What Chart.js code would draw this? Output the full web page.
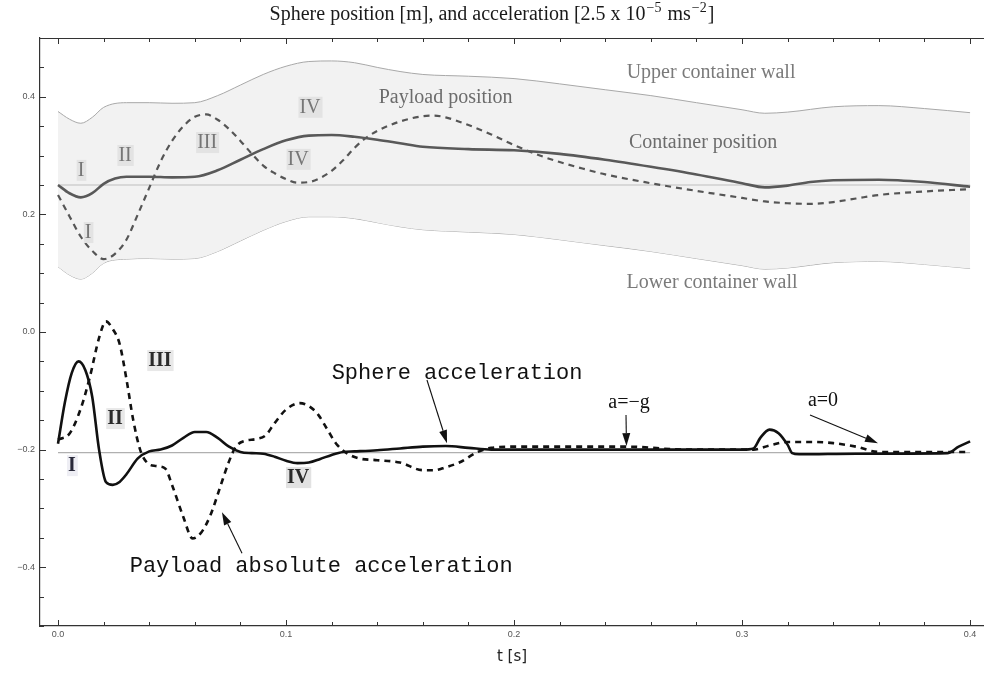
<!DOCTYPE html>
<html>
<head>
<meta charset="utf-8">
<script src="https://cdn.jsdelivr.net/npm/chart.js@4.4.1/dist/chart.umd.min.js"></script>
<style>
  html, body { margin: 0; padding: 0; background: #fff; }
</style>
</head>
<body>
<canvas id="sphereChart" width="984" height="678"></canvas>
<script>
// container walls (m)
const wallT = [0, 0.005, 0.01, 0.015, 0.02, 0.03, 0.04, 0.05, 0.06, 0.07, 0.08, 0.09, 0.1, 0.11, 0.12, 0.13, 0.14, 0.15, 0.16, 0.18, 0.2, 0.22, 0.24, 0.26, 0.28, 0.3, 0.31, 0.32, 0.34, 0.36, 0.38, 0.4];
const upperWall = [0.375, 0.362, 0.355, 0.365, 0.382, 0.390, 0.390, 0.389, 0.390, 0.402, 0.420, 0.438, 0.452, 0.460, 0.461, 0.458, 0.450, 0.443, 0.438, 0.435, 0.431, 0.422, 0.412, 0.402, 0.390, 0.378, 0.372, 0.374, 0.383, 0.385, 0.380, 0.373];
const lowerWall = [0.111, 0.097, 0.090, 0.100, 0.117, 0.124, 0.125, 0.124, 0.125, 0.137, 0.155, 0.173, 0.188, 0.196, 0.196, 0.193, 0.186, 0.179, 0.174, 0.170, 0.166, 0.157, 0.147, 0.137, 0.125, 0.113, 0.107, 0.109, 0.118, 0.120, 0.115, 0.108];

// container centre
const containerT = [0, 0.005, 0.01, 0.015, 0.02, 0.025, 0.03, 0.04, 0.05, 0.06, 0.07, 0.08, 0.09, 0.1, 0.11, 0.12, 0.13, 0.14, 0.15, 0.16, 0.18, 0.2, 0.22, 0.24, 0.26, 0.28, 0.3, 0.31, 0.32, 0.33, 0.34, 0.36, 0.38, 0.4];
const containerPos = [0.25, 0.236, 0.229, 0.236, 0.252, 0.261, 0.264, 0.264, 0.263, 0.264, 0.275, 0.293, 0.311, 0.326, 0.334, 0.335, 0.332, 0.327, 0.321, 0.315, 0.311, 0.309, 0.303, 0.293, 0.281, 0.268, 0.253, 0.246, 0.249, 0.255, 0.258, 0.259, 0.255, 0.247];

// payload (sphere) position
const payloadT = [0, 0.005, 0.01, 0.015, 0.02, 0.025, 0.03, 0.035, 0.04, 0.045, 0.05, 0.055, 0.06, 0.065, 0.07, 0.075, 0.08, 0.085, 0.09, 0.095, 0.1, 0.105, 0.11, 0.115, 0.12, 0.125, 0.13, 0.135, 0.14, 0.15, 0.16, 0.165, 0.17, 0.18, 0.19, 0.2, 0.21, 0.22, 0.23, 0.24, 0.26, 0.28, 0.3, 0.31, 0.32, 0.33, 0.34, 0.35, 0.36, 0.38, 0.4];
const payloadPos = [0.233, 0.197, 0.162, 0.138, 0.124, 0.133, 0.157, 0.200, 0.245, 0.290, 0.325, 0.350, 0.366, 0.370, 0.361, 0.345, 0.325, 0.303, 0.283, 0.270, 0.260, 0.254, 0.255, 0.262, 0.274, 0.292, 0.313, 0.330, 0.342, 0.358, 0.367, 0.368, 0.365, 0.352, 0.336, 0.318, 0.302, 0.289, 0.278, 0.268, 0.253, 0.240, 0.228, 0.222, 0.219, 0.218, 0.221, 0.227, 0.233, 0.239, 0.243];

// accelerations, shifted down so that a=0 sits on the -g line
const sphereAccT = [0, 0.003, 0.006, 0.009, 0.012, 0.015, 0.018, 0.021, 0.024, 0.027, 0.03, 0.035, 0.04, 0.045, 0.05, 0.055, 0.06, 0.065, 0.07, 0.075, 0.08, 0.085, 0.09, 0.095, 0.1, 0.105, 0.11, 0.115, 0.12, 0.125, 0.13, 0.14, 0.15, 0.16, 0.17, 0.18, 0.19, 0.2, 0.25, 0.3, 0.305, 0.308, 0.312, 0.316, 0.32, 0.322, 0.325, 0.35, 0.39, 0.395, 0.4];
const sphereAcc = [-0.19, -0.12, -0.07, -0.05, -0.065, -0.11, -0.20, -0.255, -0.26, -0.255, -0.242, -0.215, -0.203, -0.200, -0.193, -0.180, -0.170, -0.170, -0.180, -0.195, -0.204, -0.206, -0.207, -0.212, -0.219, -0.223, -0.222, -0.216, -0.209, -0.204, -0.203, -0.201, -0.198, -0.195, -0.194, -0.197, -0.2, -0.2, -0.2, -0.2, -0.198, -0.18, -0.166, -0.172, -0.192, -0.206, -0.208, -0.207, -0.206, -0.195, -0.186];
const payloadAccT = [0, 0.005, 0.01, 0.014, 0.018, 0.021, 0.024, 0.027, 0.03, 0.033, 0.036, 0.039, 0.043, 0.047, 0.05, 0.055, 0.059, 0.063, 0.067, 0.071, 0.075, 0.078, 0.082, 0.087, 0.091, 0.095, 0.1, 0.106, 0.11, 0.114, 0.118, 0.122, 0.127, 0.132, 0.14, 0.15, 0.16, 0.165, 0.17, 0.176, 0.184, 0.19, 0.2, 0.25, 0.275, 0.305, 0.312, 0.32, 0.33, 0.34, 0.35, 0.36, 0.4];
const payloadAcc = [-0.183, -0.173, -0.13, -0.076, -0.01, 0.018, 0.005, -0.02, -0.08, -0.15, -0.2, -0.222, -0.228, -0.232, -0.26, -0.315, -0.351, -0.34, -0.31, -0.265, -0.22, -0.195, -0.185, -0.182, -0.176, -0.155, -0.132, -0.121, -0.126, -0.14, -0.165, -0.19, -0.207, -0.215, -0.218, -0.222, -0.235, -0.235, -0.23, -0.222, -0.204, -0.197, -0.195, -0.195, -0.2, -0.2, -0.193, -0.187, -0.187, -0.189, -0.195, -0.204, -0.204];

// reference levels
const restLevel = 0.25;
const gLevel = -0.205;
const refT = [0, 0.4];

// axis labels
const xMajor = [0, 0.1, 0.2, 0.3, 0.4];
const xTickLabels = ['0.0', '0.1', '0.2', '0.3', '0.4'];
const yMajor = [-0.4, -0.2, 0, 0.2, 0.4];
const yTickLabels = ['\u22120.4', '\u22120.2', '0.0', '0.2', '0.4'];

// title pieces; superscripts drawn smaller and raised
const titleRuns = [
  { text: 'Sphere position [m], and acceleration [2.5 x 10' },
  { text: '\u22125', sup: true },
  { text: ' ms' },
  { text: '\u22122', sup: true },
  { text: ']' }
];

const pts = (ts, vs) => ts.map((t, i) => ({ x: t, y: vs[i] }));
const near = (a, b) => Math.abs(a - b) < 1e-6;

function stepList(from, to, step) {
  const out = [];
  const n = Math.round((to - from) / step);
  for (let i = 0; i <= n; i++) out.push(+(from + i * step).toFixed(4));
  return out;
}
const xMinor = stepList(0, 0.4, 0.02);
const yMinor = stepList(-0.5, 0.5, 0.05);

// text labels and arrows, in data coordinates
const serif = '"Liberation Serif", "Times New Roman", serif';
const mono = '"Liberation Mono", "Courier New", monospace';
const notes = [
  { text: 'I', t: 0.0101, v: 0.2757, font: '20px ' + serif, color: '#767676', box: '#e3e3e3' },
  { text: 'I', t: 0.0132, v: 0.170, font: '20px ' + serif, color: '#767676', box: '#e3e3e3' },
  { text: 'II', t: 0.0294, v: 0.301, font: '20px ' + serif, color: '#767676', box: '#e3e3e3' },
  { text: 'III', t: 0.0654, v: 0.323, font: '20px ' + serif, color: '#767676', box: '#e3e3e3' },
  { text: 'IV', t: 0.1105, v: 0.383, font: '20px ' + serif, color: '#767676', box: '#e3e3e3' },
  { text: 'IV', t: 0.1053, v: 0.2945, font: '20px ' + serif, color: '#767676', box: '#e3e3e3' },
  { text: 'Payload position', t: 0.170, v: 0.400, font: '20px ' + serif, color: '#6c6c6c' },
  { text: 'Upper container wall', t: 0.2864, v: 0.4426, font: '20px ' + serif, color: '#7a7a7a' },
  { text: 'Container position', t: 0.2829, v: 0.3234, font: '20px ' + serif, color: '#6c6c6c' },
  { text: 'Lower container wall', t: 0.2868, v: 0.085, font: '20px ' + serif, color: '#7a7a7a' },
  { text: 'I', t: 0.0061, v: -0.2264, font: 'bold 20px ' + serif, color: '#2a2a3a', box: '#eeeef4' },
  { text: 'II', t: 0.025, v: -0.1464, font: 'bold 20px ' + serif, color: '#2a2a2a', box: '#e8e8e8' },
  { text: 'III', t: 0.0447, v: -0.0477, font: 'bold 20px ' + serif, color: '#2a2a2a', box: '#e8e8e8' },
  { text: 'IV', t: 0.1053, v: -0.2468, font: 'bold 20px ' + serif, color: '#2a2a2a', box: '#e2e2e2' },
  { text: 'Sphere acceleration', t: 0.175, v: -0.068, font: '22px ' + mono, color: '#111' },
  { text: 'Payload absolute acceleration', t: 0.1154, v: -0.3966, font: '22px ' + mono, color: '#111' },
  { text: 'a=\u2212g', t: 0.2504, v: -0.119, font: '20px ' + serif, color: '#111' },
  { text: 'a=0', t: 0.3355, v: -0.1157, font: '20px ' + serif, color: '#111' }
];
const arrows = [
  { t0: 0.1618, v0: -0.0817, t1: 0.1706, v1: -0.189 },
  { t0: 0.0807, v0: -0.3762, t1: 0.0719, v1: -0.3064 },
  { t0: 0.2491, v0: -0.1413, t1: 0.2493, v1: -0.194 },
  { t0: 0.3298, v0: -0.1413, t1: 0.3596, v1: -0.189 }
];

// title with raised exponents, centred over the canvas
const supTitle = {
  id: 'supTitle',
  afterDraw(chart) {
    const { ctx } = chart;
    const mainFont = '20px ' + serif;
    const supFont = '14px ' + serif;
    ctx.save();
    ctx.textBaseline = 'alphabetic';
    ctx.textAlign = 'left';
    const widths = titleRuns.map(r => {
      ctx.font = r.sup ? supFont : mainFont;
      return ctx.measureText(r.text).width + (r.sup ? 2 : 0);
    });
    let cx = chart.width / 2 - widths.reduce((a, b) => a + b, 0) / 2;
    const base = 20;
    ctx.fillStyle = '#1a1a1a';
    titleRuns.forEach((r, i) => {
      ctx.font = r.sup ? supFont : mainFont;
      ctx.fillText(r.text, cx + (r.sup ? 1 : 0), r.sup ? base - 8 : base);
      cx += widths[i];
    });
    ctx.restore();
  }
};

// inward tick marks on the left, bottom and top edges, plus the top frame line
const frameTicks = {
  id: 'frameTicks',
  afterDraw(chart) {
    const { ctx, chartArea: a, scales: { x, y } } = chart;
    ctx.save();
    ctx.strokeStyle = '#333';
    ctx.lineWidth = 1.2;
    ctx.beginPath();
    ctx.moveTo(a.left, a.top + 0.5);
    ctx.lineTo(a.right, a.top + 0.5);
    ctx.stroke();
    ctx.lineWidth = 1;
    xMinor.forEach(t => {
      const px = Math.round(x.getPixelForValue(t)) + 0.5;
      const len = xMajor.some(m => near(m, t)) ? 6 : 4;
      ctx.beginPath();
      ctx.moveTo(px, a.bottom);
      ctx.lineTo(px, a.bottom - len);
      ctx.moveTo(px, a.top);
      ctx.lineTo(px, a.top + len);
      ctx.stroke();
    });
    yMinor.forEach(v => {
      const py = Math.round(y.getPixelForValue(v)) + 0.5;
      const len = yMajor.some(m => near(m, v)) ? 6 : 4;
      ctx.beginPath();
      ctx.moveTo(a.left, py);
      ctx.lineTo(a.left + len, py);
      ctx.stroke();
    });
    ctx.restore();
  }
};

const noteLayer = {
  id: 'noteLayer',
  afterDatasetsDraw(chart) {
    const { ctx, scales: { x, y } } = chart;
    ctx.save();
    ctx.textAlign = 'center';
    ctx.textBaseline = 'middle';
    notes.forEach(n => {
      const px = x.getPixelForValue(n.t);
      const py = y.getPixelForValue(n.v);
      ctx.font = n.font;
      if (n.box) {
        const w = ctx.measureText(n.text).width;
        ctx.fillStyle = n.box;
        ctx.fillRect(px - w / 2 - 1, py - 10, w + 3, 21);
      }
      ctx.fillStyle = n.color;
      ctx.fillText(n.text, px, py + 1);
    });
    ctx.strokeStyle = '#111';
    ctx.fillStyle = '#111';
    ctx.lineWidth = 1.1;
    arrows.forEach(r => {
      const x0 = x.getPixelForValue(r.t0), y0 = y.getPixelForValue(r.v0);
      const x1 = x.getPixelForValue(r.t1), y1 = y.getPixelForValue(r.v1);
      const ang = Math.atan2(y1 - y0, x1 - x0);
      const head = 13, half = 4;
      const bx = x1 - head * Math.cos(ang), by = y1 - head * Math.sin(ang);
      ctx.beginPath();
      ctx.moveTo(x0, y0);
      ctx.lineTo(bx, by);
      ctx.stroke();
      ctx.beginPath();
      ctx.moveTo(x1, y1);
      ctx.lineTo(bx + half * Math.sin(ang), by - half * Math.cos(ang));
      ctx.lineTo(bx - half * Math.sin(ang), by + half * Math.cos(ang));
      ctx.closePath();
      ctx.fill();
    });
    ctx.restore();
  }
};

const tickFont = { family: '"Liberation Sans", Arial, sans-serif', size: 9 };

new Chart(document.getElementById('sphereChart').getContext('2d'), {
  type: 'line',
  data: {
    datasets: [
      { label: 'Upper container wall', data: pts(wallT, upperWall), borderColor: '#a8a8a8', borderWidth: 1, fill: '+1', backgroundColor: '#f2f2f2', order: 10 },
      { label: 'Lower container wall', data: pts(wallT, lowerWall), borderColor: '#a8a8a8', borderWidth: 1, fill: false, order: 10 },
      { label: 'Rest position', data: pts(refT, [restLevel, restLevel]), borderColor: '#bdbdbd', borderWidth: 1.2, order: 9 },
      { label: 'a = -g', data: pts(refT, [gLevel, gLevel]), borderColor: '#b0b0b0', borderWidth: 1.2, order: 9 },
      { label: 'Container position', data: pts(containerT, containerPos), borderColor: '#595959', borderWidth: 2.6, order: 2 },
      { label: 'Payload position', data: pts(payloadT, payloadPos), borderColor: '#555', borderWidth: 2.2, borderDash: [6, 5], order: 2 },
      { label: 'Sphere acceleration', data: pts(sphereAccT, sphereAcc), borderColor: '#111', borderWidth: 2.6, order: 1 },
      { label: 'Payload absolute acceleration', data: pts(payloadAccT, payloadAcc), borderColor: '#111', borderWidth: 2.6, borderDash: [6, 5], order: 1 }
    ]
  },
  options: {
    responsive: false,
    animation: false,
    layout: { padding: { top: 38, right: 0, bottom: 0, left: 0 } },
    elements: {
      point: { radius: 0 },
      line: { cubicInterpolationMode: 'monotone', fill: false, borderCapStyle: 'butt' }
    },
    plugins: {
      legend: { display: false },
      tooltip: { enabled: false },
      title: { display: false }
    },
    scales: {
      x: {
        type: 'linear',
        min: -0.0079,
        max: 0.4061,
        grid: { drawOnChartArea: false, drawTicks: false },
        border: { color: '#333', width: 1.2 },
        afterBuildTicks: s => { s.ticks = xMinor.map(v => ({ value: v })); },
        afterFit: s => { s.height = 52; },
        ticks: {
          autoSkip: false,
          maxRotation: 0,
          padding: 3,
          color: '#555',
          font: tickFont,
          callback: v => {
            const i = xMajor.findIndex(m => near(m, v));
            return i >= 0 ? xTickLabels[i] : '';
          }
        },
        title: {
          display: true,
          text: 't [s]',
          color: '#222',
          font: { family: '"DejaVu Sans", sans-serif', size: 15 },
          padding: { top: 0, bottom: 12 }
        }
      },
      y: {
        type: 'linear',
        min: -0.5,
        max: 0.5,
        grid: { drawOnChartArea: false, drawTicks: false },
        border: { color: '#333', width: 1.2 },
        afterBuildTicks: s => { s.ticks = yMinor.map(v => ({ value: v })); },
        afterFit: s => { s.width = 40; },
        ticks: {
          autoSkip: false,
          padding: 5,
          color: '#555',
          font: tickFont,
          callback: v => {
            const i = yMajor.findIndex(m => near(m, v));
            return i >= 0 ? yTickLabels[i] : '';
          }
        }
      }
    }
  },
  plugins: [supTitle, frameTicks, noteLayer]
});
</script>
</body>
</html>
